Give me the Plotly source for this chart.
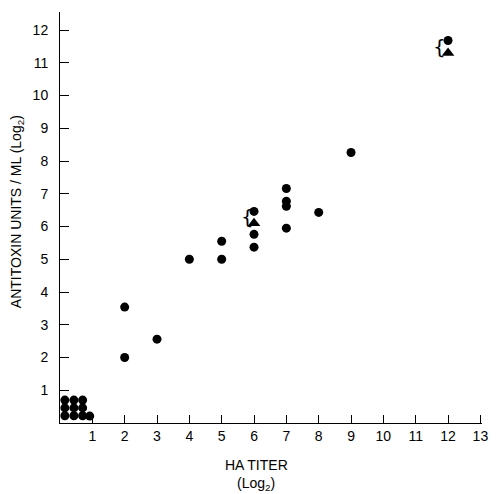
import plotly.graph_objects as go

# Antitoxin titre vs HA titre (both log2)
circle_x = [0.15, 0.43, 0.70, 0.15, 0.43, 0.70, 0.15, 0.43, 0.70, 0.92,
            2, 2, 3, 4, 5, 5, 6, 6, 6, 7, 7, 7, 7, 8, 9, 12]
circle_y = [0.70, 0.70, 0.70, 0.46, 0.46, 0.46, 0.22, 0.22, 0.22, 0.21,
            2.0, 3.54, 2.56, 5.0, 5.0, 5.55, 6.46, 5.76, 5.37,
            7.16, 6.77, 6.62, 5.95, 6.43, 8.26, 11.68]
triangle_x = [6, 12]
triangle_y = [6.10, 11.30]

x_ticks = list(range(1, 14))
y_ticks = list(range(1, 13))

font = "Liberation Sans, Arial, sans-serif"

fig = go.Figure()
fig.add_trace(go.Scatter(x=circle_x, y=circle_y, mode="markers",
                         marker=dict(symbol="circle", size=9, color="black"),
                         cliponaxis=False, showlegend=False))
fig.add_trace(go.Scatter(x=triangle_x, y=triangle_y, mode="markers",
                         marker=dict(symbol="triangle-up", size=11, color="black"),
                         cliponaxis=False, showlegend=False))

# braces grouping paired measurements
for bx, by in [(5.80, 6.28), (11.74, 11.49)]:
    fig.add_annotation(x=bx, y=by, text="{", showarrow=False,
                       font=dict(family="DejaVu Sans", size=20, color="black"))

fig.update_xaxes(range=[0, 13.05], tickvals=x_ticks, ticktext=[str(v) for v in x_ticks],
                 ticks="inside", ticklen=8, tickcolor="black", tickwidth=1,
                 showline=True, linecolor="black", linewidth=1,
                 showgrid=False, zeroline=False,
                 tickfont=dict(family=font, size=14, color="black"))
fig.update_yaxes(range=[0, 12.55], tickvals=y_ticks, ticktext=[str(v) for v in y_ticks],
                 ticks="inside", ticklen=9, tickcolor="black", tickwidth=1,
                 showline=True, linecolor="black", linewidth=1,
                 showgrid=False, zeroline=False, ticklabelstandoff=8,
                 tickfont=dict(family=font, size=14, color="black"))

fig.add_annotation(xref="paper", yref="paper", x=0.465, y=-0.103, yanchor="middle",
                   text="HA TITER", showarrow=False,
                   font=dict(family=font, size=14, color="black"))
fig.add_annotation(xref="paper", yref="paper", x=0.465, y=-0.148, yanchor="middle",
                   text="(Log<sub>2</sub>)", showarrow=False,
                   font=dict(family=font, size=14, color="black"))
fig.add_annotation(xref="paper", yref="paper", x=-0.1, y=0.515, xanchor="center",
                   textangle=-90, text="ANTITOXIN UNITS / ML (Log<sub>2</sub>)",
                   showarrow=False, font=dict(family=font, size=14, color="black"))

fig.update_layout(width=499, height=494,
                  margin=dict(l=60, r=11, t=12, b=71),
                  plot_bgcolor="white", paper_bgcolor="white")

fig.write_html("out.html")
